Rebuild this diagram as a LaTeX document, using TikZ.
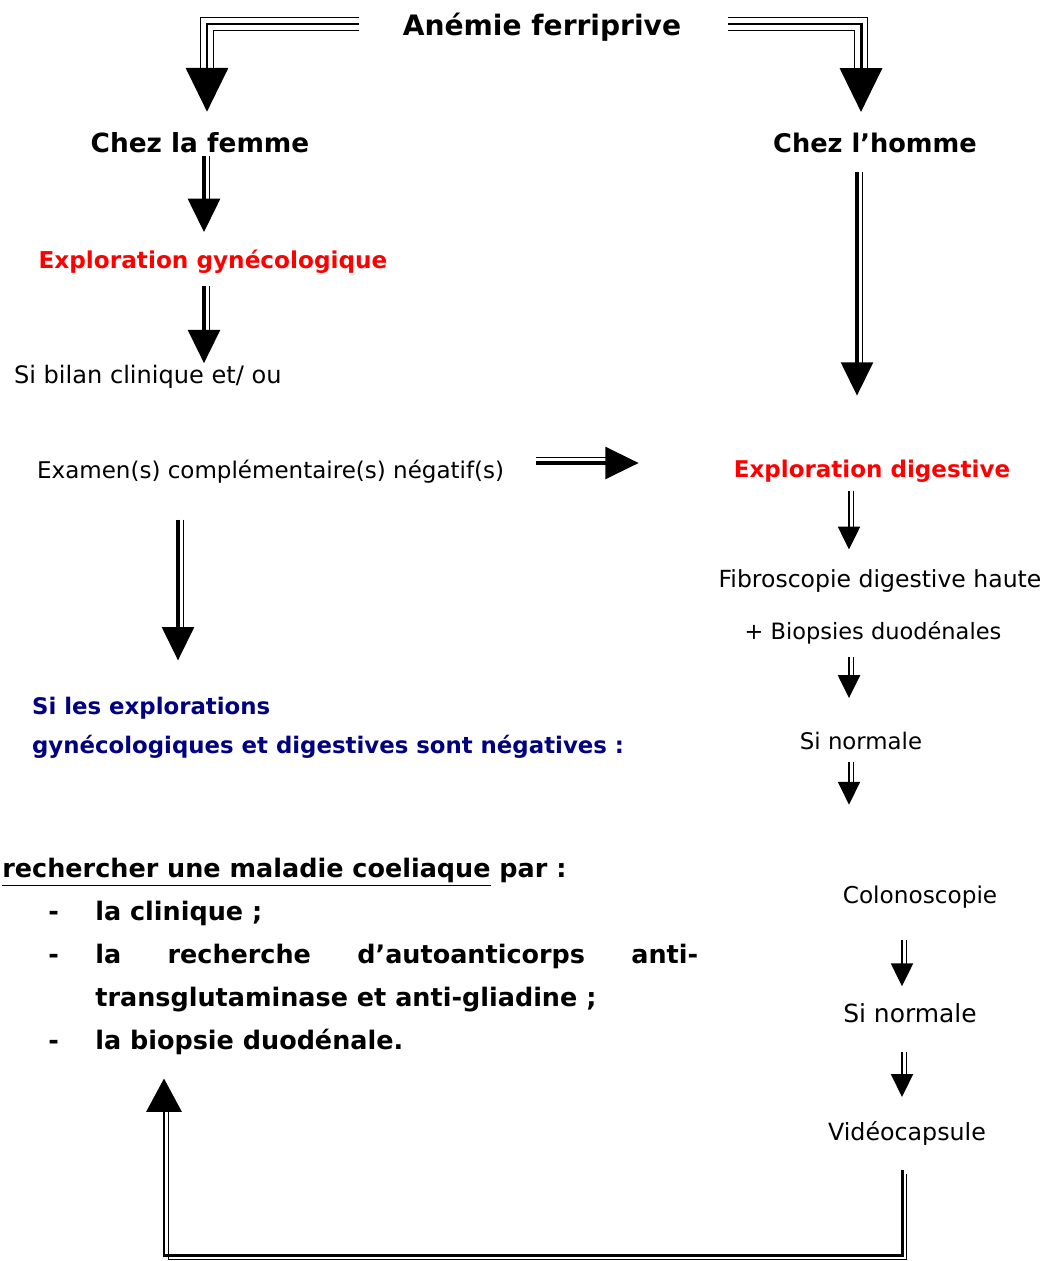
\documentclass[tikz,border=0pt]{standalone}
\usepackage{fontspec}
\setmainfont{DejaVu Sans}
\usepackage{tikz}
\usetikzlibrary{arrows.meta, calc}
\definecolor{rougevif}{RGB}{255,0,0}
\definecolor{bleunuit}{RGB}{0,0,128}
\tikzset{
  gras/.style={inner sep=1pt, font=\fontsize{#1}{#1}\selectfont\bfseries},
  maigre/.style={inner sep=1pt, font=\fontsize{#1}{#1}\selectfont},
  rouge/.style={gras=#1, text=rougevif},
  bleu/.style={inner sep=1pt, align=left, text=bleunuit,
    font=\fontsize{13}{22}\selectfont\bfseries},
  liste/.style={inner sep=0pt, font=\fontsize{14.5}{24.4}\selectfont\bfseries},
  triple/.style={line width=1.7pt, -{Triangle[width=24pt,length=25pt]},
    preaction={draw, -, line width=0.8pt, double, double distance=6.6pt, shorten >=20pt}},
  fleche/.style={line width=2.2pt, -{Triangle[width=18pt,length=19pt]},
    preaction={draw, -, line width=0.7pt, shorten >=12pt, transform canvas={#1}}},
  fleche/.default={xshift=3pt},
  petite/.style={line width=1.2pt, -{Triangle[width=12.5pt,length=13pt]},
    preaction={draw, -, line width=0.5pt, shorten >=9pt, transform canvas={xshift=2.3pt}}},
  boucle/.style={line width=1.7pt, -{Triangle[width=20pt,length=19pt]},
    preaction={draw, -, line width=0.6pt, shorten >=12pt,
      transform canvas={xshift=2.5pt, yshift=-2.5pt}}}
}

\begin{document}
\begin{tikzpicture}[x=0.02cm, y=-0.02cm]
  \useasboundingbox (0,0) rectangle (1047,1261);

  % colonnes des fleches
  \coordinate (colTG) at (207,0);
  \coordinate (colTD) at (861,0);
  \coordinate (colG) at (204,0);
  \coordinate (colB) at (178,0);
  \coordinate (colH) at (857,0);
  \coordinate (colD) at (849,0);
  \coordinate (colE) at (902,0);
  \coordinate (colL) at (164,0);
  \coordinate (bas) at (0,1255);

  \node[gras=16] (titre) at (542,27) {Anémie ferriprive};
  \node[gras=15] (femme) at (200,143) {Chez la femme};
  \node[gras=14.6] (homme) at (875,143) {Chez l’homme};
  \node[rouge=13.2] (gyneco) at (213,262) {Exploration gynécologique};
  \node[maigre=13.7, anchor=west] (bilan) at (12,377) {Si bilan clinique et/ ou};
  \node[maigre=13.1, anchor=west] (examen) at (35,472) {Examen(s) complémentaire(s) négatif(s)};
  \node[rouge=13.1] (digest) at (872,471) {Exploration digestive};
  \node[maigre=13.4] (fibro) at (880,581) {Fibroscopie digestive haute};
  \node[maigre=12.8] (biopsie) at (873,633) {+ Biopsies duodénales};
  \node[maigre=13] (normale1) at (861,741) {Si normale};
  \node[maigre=13.2] (colono) at (920,897) {Colonoscopie};
  \node[maigre=14.2] (normale2) at (910,1013) {Si normale};
  \node[maigre=13.5] (video) at (907,1133) {Vidéocapsule};
  \node[bleu, anchor=west] (negatif) at (30,728)
    {Si les explorations\\gynécologiques et digestives sont négatives :};
  \node[liste, anchor=west] (coeliaque) at (2,955) {%
    \begin{tabular}{@{}p{1.86cm}@{}l@{}}
      \multicolumn{2}{@{}l@{}}{\underline{rechercher une maladie coeliaque} par :}\\
      \hspace*{0.92cm}- & la clinique ;\\
      \hspace*{0.92cm}- & \makebox[12.06cm][s]{la recherche d’autoanticorps anti-}\\
       & transglutaminase et anti-gliadine ;\\
      \hspace*{0.92cm}- & la biopsie duodénale.
    \end{tabular}};

  \draw[triple] ($(titre.west)+(-42,-3)$) -| ($(femme.north -| colTG)+(0,-19)$);
  \draw[triple] ($(titre.east)+(45,-3)$) -| ($(homme.north -| colTD)+(0,-19)$);
  \draw[fleche] ($(femme.south -| colG)+(0,1)$) -- ($(gyneco.north -| colG)+(0,-16)$);
  \draw[fleche] ($(gyneco.south -| colG)+(0,10)$) -- (bilan.north -| colG);
  \draw[fleche={yshift=3pt}] ($(examen.east)+(30,-9)$) -- ($(digest.west)+(-93,-8)$);
  \draw[fleche] ($(examen.south -| colB)+(0,34)$) -- ($(negatif.north -| colB)+(0,-35)$);
  \draw[fleche] ($(homme.south -| colH)+(0,17)$) -- ($(digest.north -| colH)+(0,-62)$);
  \draw[petite] ($(digest.south -| colD)+(0,7)$) -- ($(fibro.north -| colD)+(0,-18)$);
  \draw[petite] ($(biopsie.south -| colD)+(0,11)$) -- ($(normale1.north -| colD)+(0,-32)$);
  \draw[petite] ($(normale1.south -| colD)+(0,10)$) -- ($(colono.north -| colD)+(0,-79)$);
  \draw[petite] ($(colono.south -| colE)+(0,30)$) -- ($(normale2.north -| colE)+(0,-15)$);
  \draw[petite] ($(normale2.south -| colE)+(0,27)$) -- ($(video.north -| colE)+(0,-22)$);
  \draw[boucle] ($(video.south -| colE)+(0,23)$) |- (bas -| colL)
    -- ($(coeliaque.south -| colL)+(0,16)$);
\end{tikzpicture}
\end{document}
